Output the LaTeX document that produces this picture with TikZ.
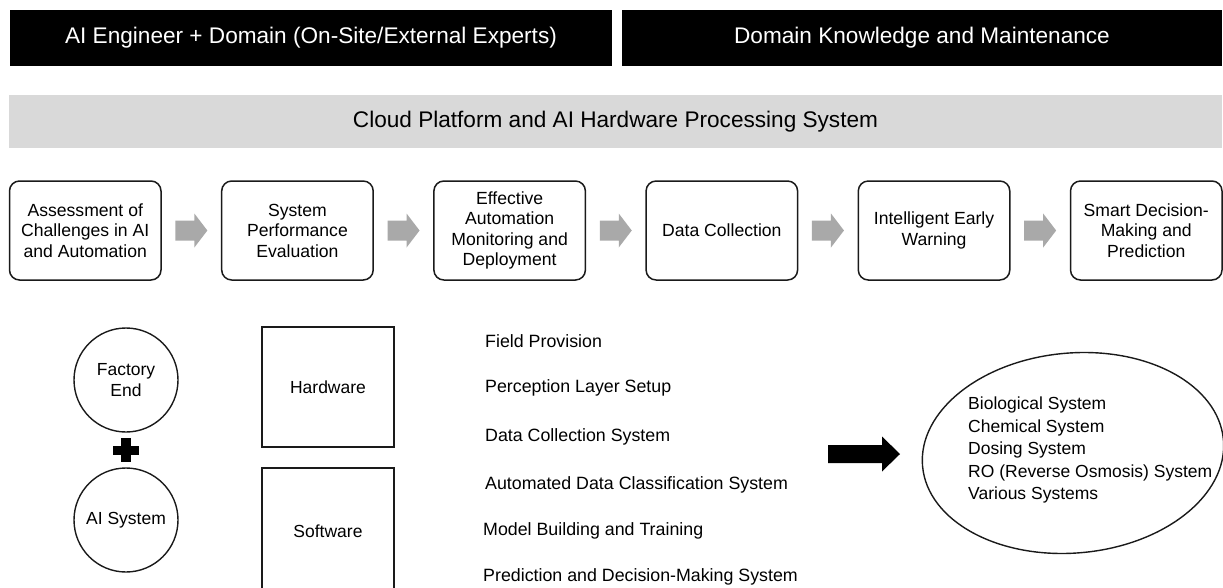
\documentclass[tikz,border=0pt]{standalone}
\usepackage{fontspec}
\setmainfont{Liberation Sans}
\usetikzlibrary{calc,positioning}
\definecolor{barGray}{HTML}{D9D9D9}
\definecolor{arrGray}{HTML}{A9A9A9}
\definecolor{lineDark}{HTML}{1A1A1A}
\tikzset{
  blackbar/.style={fill=black,draw=none,text=white,inner sep=0pt,font=\fontsize{22.6}{26}\selectfont},
  graybar/.style={fill=barGray,draw=none,text=black,inner sep=0pt,font=\fontsize{22.6}{26}\selectfont},
  stepbox/.style={draw=lineDark,line width=1.5pt,rounded corners=10pt,minimum width=151.5pt,minimum height=99pt,inner sep=0pt,align=center,font=\fontsize{17.6}{20.5}\selectfont},
  circbox/.style={circle,draw=lineDark,line width=1.4pt,minimum size=104pt,inner sep=0pt,align=center,font=\fontsize{17.5}{21.5}\selectfont},
  sqbox/.style={rectangle,draw=lineDark,line width=1.4pt,minimum width=132pt,inner sep=0pt,align=center,font=\fontsize{17.5}{21}\selectfont},
  listitem/.style={anchor=west,inner sep=0pt,font=\fontsize{17.8}{21}\selectfont},
  garrow/.pic={\fill[arrGray] (-16,-10) -- (3,-10) -- (3,-17) -- (16,0) -- (3,17) -- (3,10) -- (-16,10) -- cycle;},
  barrow/.pic={\fill[black] (-36,-9) -- (18,-9) -- (18,-17.5) -- (36,0) -- (18,17.5) -- (18,9) -- (-36,9) -- cycle;}
}
\begin{document}
\begin{tikzpicture}[x=1pt,y=-1pt]
\useasboundingbox (0,0) rectangle (1223,587);
\clip (0,0) rectangle (1223,587);
\fill[white] (0,0) rectangle (1223,587);

% top bars
\node[blackbar,minimum width=602pt,minimum height=56pt] (bar1) at (311,37.5) {AI Engineer + Domain (On-Site/External Experts)};
\node[blackbar,minimum width=600pt,minimum height=56pt] (bar2) at (922,37.5) {Domain Knowledge and Maintenance};
\node[graybar,minimum width=1213pt,minimum height=53pt] (cloud) at (615.5,121.5) {Cloud Platform and AI Hardware Processing System};

% process row
\node[stepbox] (s1) at (85.25,230.5) {Assessment of\\Challenges in AI\\and Automation};
\node[stepbox] (s2) at (297.45,230.5) {System\\Performance\\Evaluation};
\node[stepbox] (s3) at (509.65,230.5) {Effective\\Automation\\Monitoring and\\Deployment};
\node[stepbox] (s4) at (721.85,230.5) {Data Collection};
\node[stepbox] (s5) at (934.05,230.5) {Intelligent Early\\Warning};
\node[stepbox] (s6) at (1146.25,230.5) {Smart Decision-\\Making and\\Prediction};

\foreach \a/\b in {s1/s2,s2/s3,s3/s4,s4/s5,s5/s6}{
  \coordinate (g\a) at ($(\a.east)!0.5!(\b.west)$);
  \pic at (g\a) {garrow};
}

% circles
\node[circbox] (factory) at (126,380) {Factory\\End};
\node[circbox] (aisys) at (126,520) {AI System};
\coordinate (plus) at ($(factory.south)!0.5!(aisys.north)$);
\fill[black] ($(plus)+(-13,-4.5)$) rectangle ($(plus)+(13,4.5)$);
\fill[black] ($(plus)+(-5,-12)$) rectangle ($(plus)+(5,12)$);

% hardware / software
\node[sqbox,minimum height=120pt] (hw) at (328,387) {Hardware};
\node[sqbox,minimum height=126pt] (sw) at (328,531) {Software};

% list
\node[listitem] (l1) at (485,341) {Field Provision};
\node[listitem] (l2) at (485,388) {Perception Layer Setup};
\node[listitem] (l3) at (485,437) {Data Collection System};
\node[listitem] (l4) at (485,485) {Automated Data Classification System};
\node[listitem] (l5) at (483,531) {Model Building and Training};
\node[listitem] (l6) at (483,577) {Prediction and Decision-Making System};

% big arrow and ellipse
\coordinate (bigarrow) at (864,454);
\pic at (bigarrow) {barrow};
\coordinate (ell) at (1073,453);
\draw[lineDark,line width=1.4pt,rotate around={5:(ell)}] (ell) ellipse [x radius=151, y radius=100];
\node[anchor=west,inner sep=0pt,align=left,font=\fontsize{17.5}{22.5}\selectfont] (sys) at (968,450) {Biological System\\Chemical System\\Dosing System\\RO (Reverse Osmosis) System\\Various Systems};
\end{tikzpicture}
\end{document}
